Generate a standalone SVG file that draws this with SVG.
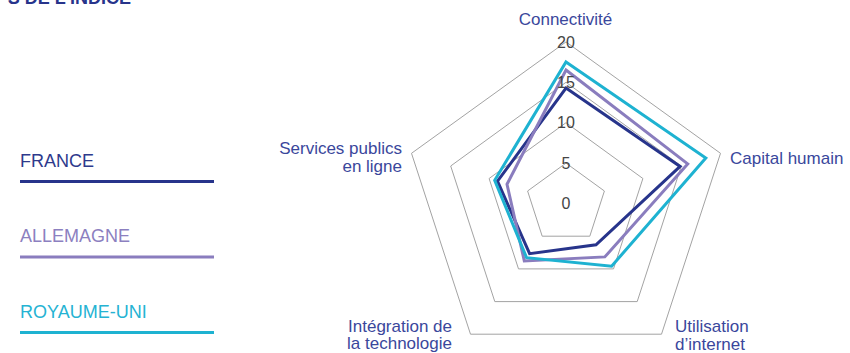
<svg xmlns="http://www.w3.org/2000/svg" width="850" height="353" viewBox="0 0 850 353">
<style>
.grid{fill:none;stroke:#a3a3a3;stroke-width:1}
.ser{fill:none;stroke-width:3;stroke-linejoin:miter}
.ax{font-family:"Liberation Sans",Arial,sans-serif;font-size:17px;fill:#3a479c}
.num{font-family:"Liberation Sans",Arial,sans-serif;font-size:16px;fill:#454545;text-anchor:middle}
.leg{font-family:"Liberation Sans",Arial,sans-serif;font-size:18px}
.fr{stroke:#27348b}
.de{stroke:#8a7dbe}
.uk{stroke:#1eb2d1}
</style>
<rect width="850" height="353" fill="#ffffff"/>
<text x="131" y="4" text-anchor="end" style="font-family:'Liberation Sans',Arial,sans-serif;font-size:18px;font-weight:bold;fill:#27348b">S DE L'INDICE</text>
<g id="grid">
<polygon class="grid" points="566,163.1 604.4,191 589.8,236.2 542.2,236.2 527.6,191"/>
<polygon class="grid" points="566,122.7 642.9,178.5 613.5,268.9 518.5,268.9 489.1,178.5"/>
<polygon class="grid" points="566,82.3 681.3,166 637.2,301.6 494.8,301.6 450.7,166"/>
<polygon class="grid" points="566,41.9 720.5,153.3 661.5,334.2 470.5,334.2 411.5,153.3"/>
</g>
<g id="series">
<polygon id="s-france" class="ser fr" points="566,88 680.1,166.4 596,244.8 529.6,253.7 497.5,181.2"/>
<polygon id="s-allemagne" class="ser de" points="566,70 687.7,163.9 604.8,256.9 524.3,260.9 507,184.3"/>
<polygon id="s-royaume-uni" class="ser uk" points="566,62 705.8,158.1 611.6,266.2 526.6,257.7 494.7,180.3"/>
</g>
<g id="scale">
<text class="num" x="566" y="47.7">20</text>
<text class="num" x="566" y="87.9">15</text>
<text class="num" x="566" y="127.9">10</text>
<text class="num" x="566" y="169.2">5</text>
<text class="num" x="566" y="209.2">0</text>
</g>
<g id="axis-connectivite"><text class="ax" x="565.5" y="24.5" text-anchor="middle">Connectivité</text></g>
<g id="axis-capital"><text class="ax" x="730" y="163.5">Capital humain</text></g>
<g id="axis-utilisation"><text class="ax" x="675" y="331.5">Utilisation</text><text class="ax" x="675" y="349.5">d’internet</text></g>
<g id="axis-integration"><text class="ax" x="452" y="331.5" text-anchor="end">Intégration de</text><text class="ax" x="452" y="349" text-anchor="end">la technologie</text></g>
<g id="axis-services"><text class="ax" x="402" y="154" text-anchor="end">Services publics</text><text class="ax" x="402" y="171.7" text-anchor="end">en ligne</text></g>
<g id="legend-france"><text class="leg" x="20" y="166.5" fill="#2e3a8c">FRANCE</text><line x1="20" y1="181.5" x2="214" y2="181.5" class="fr" stroke-width="3"/></g>
<g id="legend-allemagne"><text class="leg" x="20" y="241.5" fill="#8c80c0">ALLEMAGNE</text><line x1="20" y1="257" x2="214" y2="257" class="de" stroke-width="3"/></g>
<g id="legend-royaume-uni"><text class="leg" x="20" y="317.5" fill="#25b3d3">ROYAUME-UNI</text><line x1="20" y1="332.5" x2="214" y2="332.5" class="uk" stroke-width="3"/></g>
</svg>
